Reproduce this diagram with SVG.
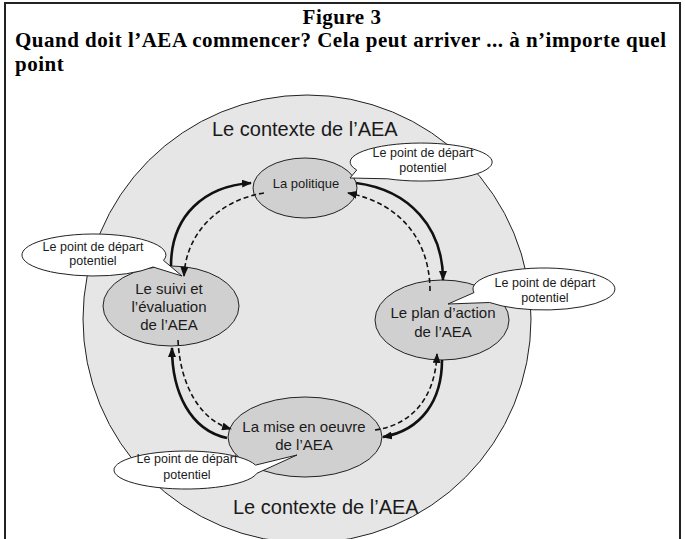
<svg xmlns="http://www.w3.org/2000/svg" width="685" height="539" viewBox="0 0 685 539">
<style>
.title{font-family:"Liberation Serif","Times New Roman",serif;font-weight:bold;font-size:21px;letter-spacing:0.5px;fill:#000}
.ctx{font-family:"Liberation Sans",Arial,sans-serif;font-size:20px;fill:#1a1a1a}
.node{fill:#d0d0d0;stroke:#222;stroke-width:1}
.nt{font-family:"Liberation Sans",Arial,sans-serif;font-size:15px;fill:#1a1a1a;text-anchor:middle}
.bub{fill:#fff;stroke:#222;stroke-width:1}
.bt{font-family:"Liberation Sans",Arial,sans-serif;font-size:12.5px;fill:#1a1a1a;text-anchor:middle}
.solid{fill:none;stroke:#111;stroke-width:2.6}
.dash{fill:none;stroke:#111;stroke-width:1.6;stroke-dasharray:5 3}
</style>
<defs>
<marker id="ah" markerUnits="userSpaceOnUse" markerWidth="10" markerHeight="8" refX="9" refY="4" orient="auto">
<path d="M0,0 L10,4 L0,8 z" fill="#111"/>
</marker>
</defs>
<rect x="0" y="0" width="685" height="539" fill="#fff"/>
<g id="frame" fill="none" stroke="#222" stroke-width="2">
<path d="M5,545 L5,3 L680,3 L680,545"/>
</g>
<g id="title">
<text class="title" x="342" y="23.5" text-anchor="middle">Figure 3</text>
<text class="title" x="15" y="47">Quand doit l’AEA commencer? Cela peut arriver ... à n’importe quel</text>
<text class="title" x="15" y="70.5">point</text>
</g>
<g id="context">
<circle cx="307" cy="319" r="224" fill="#e6e6e6" stroke="#222" stroke-width="1"/>
<text class="ctx" x="212" y="136">Le contexte de l’AEA</text>
<text class="ctx" x="233" y="514">Le contexte de l’AEA</text>
</g>
<g id="node-politique">
<ellipse class="node" cx="305" cy="188" rx="52" ry="30"/>
<text class="nt" x="306" y="188" style="font-size:13px">La politique</text>
</g>
<g id="node-plan">
<ellipse class="node" cx="442" cy="320" rx="67" ry="40"/>
<text class="nt" x="443" y="318">Le plan d’action</text>
<text class="nt" x="443" y="337">de l’AEA</text>
</g>
<g id="node-mise">
<ellipse class="node" cx="305" cy="437" rx="77" ry="40"/>
<text class="nt" x="304" y="432">La mise en oeuvre</text>
<text class="nt" x="304" y="450">de l’AEA</text>
</g>
<g id="node-suivi">
<ellipse class="node" cx="171" cy="306" rx="68" ry="40"/>
<text class="nt" x="169" y="294">Le suivi et</text>
<text class="nt" x="169" y="312">l’évaluation</text>
<text class="nt" x="169" y="330">de l’AEA</text>
</g>
<g id="connectors">
<path class="solid" d="M171,266 C171,215 205,186 251,183" marker-end="url(#ah)"/>
<path class="dash" d="M264,193 C220,200 186,232 184,276" marker-end="url(#ah)"/>
<path class="solid" d="M356,183 C410,190 443,228 443,280" marker-end="url(#ah)"/>
<path class="dash" d="M430,291 C430,240 400,203 348,193" marker-end="url(#ah)"/>
<path class="solid" d="M442,360 C442,400 422,430 383,437" marker-end="url(#ah)"/>
<path class="dash" d="M375,430 C410,425 435,400 437,354" marker-end="url(#ah)"/>
<path class="solid" d="M227,438 C190,430 172,392 172,348" marker-end="url(#ah)"/>
<path class="dash" d="M178,340 C180,385 200,420 231,429" marker-end="url(#ah)"/>
</g>
<g id="bubble-politique">
<path class="bub" d="M387.7,178.8 A71,19 0 1 0 356.7,170 L350,178 Z"/>
<text class="bt" x="423" y="157">Le point de départ</text>
<text class="bt" x="423" y="172">potentiel</text>
</g>
<g id="bubble-plan">
<path class="bub" d="M489.6,302.5 A71,21 0 1 0 474,292.6 L448,304 Z"/>
<text class="bt" x="545" y="287">Le point de départ</text>
<text class="bt" x="545" y="302">potentiel</text>
</g>
<g id="bubble-suivi">
<path class="bub" d="M163.5,260.4 A72,21 0 1 0 153,267 L182,276 Z"/>
<text class="bt" x="93" y="251">Le point de départ</text>
<text class="bt" x="93" y="265">potentiel</text>
</g>
<g id="bubble-mise">
<path class="bub" d="M255.5,465.1 A72,19 0 1 0 256.9,473.3 L297,455 Z"/>
<text class="bt" x="187" y="463">Le point de départ</text>
<text class="bt" x="187" y="479">potentiel</text>
</g>
</svg>
